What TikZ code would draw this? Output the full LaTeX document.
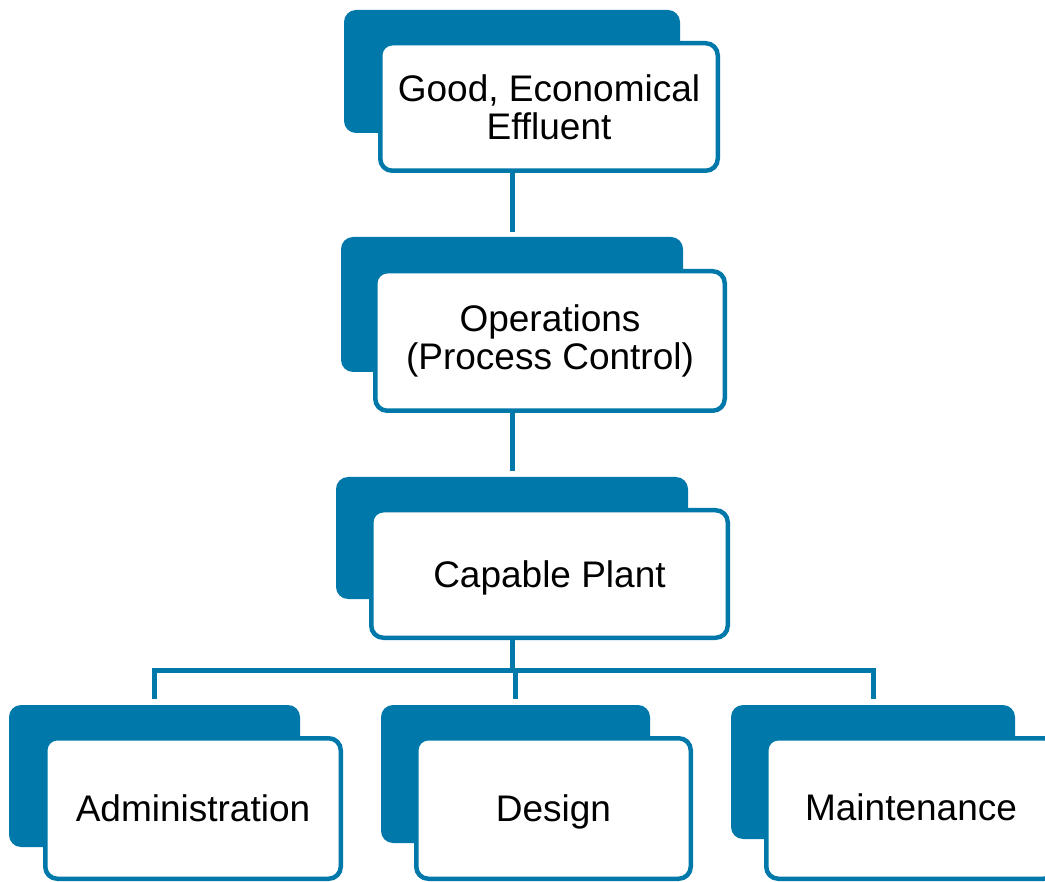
\documentclass[tikz,border=0pt]{standalone}
\usepackage{fontspec}
\setmainfont{Liberation Sans}
\definecolor{oc}{RGB}{0,120,169}
\begin{document}
\begin{tikzpicture}[x=1pt,y=-1pt,
  backbox/.style={fill=oc,draw=none,rounded corners=12pt,inner sep=0pt},
  frontbox/.style={fill=white,draw=oc,line width=4.5pt,rounded corners=12pt,inner sep=0pt,align=center,font=\fontsize{37}{38}\selectfont},
  conn/.style={draw=oc,line width=5pt}]
\useasboundingbox (0,0) rectangle (1045,882);
\clip (0,0) rectangle (1045,882);
% box 1
\node[backbox,minimum width=336pt,minimum height=123pt] (b1) at (512,71.5) {};
\node[frontbox,minimum width=337.5pt,minimum height=127.5pt] (f1) at (549,107) {Good, Economical\\Effluent};
% box 2
\node[backbox,minimum width=342pt,minimum height=135pt] (b2) at (512,304.5) {};
\node[frontbox,minimum width=349.5pt,minimum height=139.5pt] (f2) at (550,341) {Operations\\(Process Control)};
% box 3
\node[backbox,minimum width=352pt,minimum height=122pt] (b3) at (512,538) {};
\node[frontbox,minimum width=356.5pt,minimum height=127.5pt,text depth=0pt] (f3) at (549.5,574) {Capable Plant};
% bottom row
\node[backbox,minimum width=291pt,minimum height=142pt] (bA) at (154.5,776) {};
\node[frontbox,minimum width=295.5pt,minimum height=140.5pt] (fA) at (193,808.5) {Administration};
\node[backbox,minimum width=269pt,minimum height=138pt] (bD) at (515.5,774) {};
\node[frontbox,minimum width=274.5pt,minimum height=140.5pt,text depth=0pt] (fD) at (553.5,808.5) {Design};
\node[backbox,minimum width=284pt,minimum height=134pt] (bM) at (873,772) {};
\node[frontbox,minimum width=289.5pt,minimum height=140.5pt,text depth=3pt] (fM) at (911,808.5) {Maintenance};
% connectors
\coordinate (bus) at (512,670);
\draw[conn] (f1.south -| b1.center) -- ([yshift=5pt]b2.north);
\draw[conn] (f2.south -| b2.center) -- ([yshift=6pt]b3.north);
\draw[conn] (f3.south -| b3.center) -- (bus);
\draw[conn] ([yshift=6pt]bA.north) -- (bA.north |- bus) -- (bM.north |- bus) -- ([yshift=6pt]bM.north);
\draw[conn] ([yshift=6pt]bD.north) -- (bD.north |- bus);
\end{tikzpicture}
\end{document}
